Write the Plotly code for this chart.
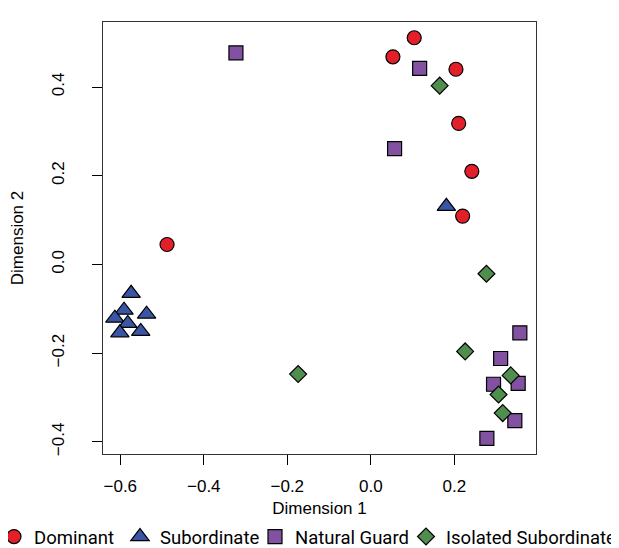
import plotly.graph_objects as go

# ---- data ----
dom_x = [0.104, 0.053, 0.204, 0.2105, 0.242, 0.220, -0.488]
dom_y = [0.511, 0.468, 0.440, 0.318, 0.210, 0.109, 0.045]

sub_x = [-0.574, -0.591, -0.613, -0.537, -0.582, -0.601, -0.551, 0.181]
sub_y = [-0.065, -0.103, -0.121, -0.112, -0.133, -0.154, -0.151, 0.131]

ng_x = [-0.323, 0.117, 0.057, 0.357, 0.311, 0.353, 0.294, 0.345, 0.278]
ng_y = [0.477, 0.442, 0.261, -0.154, -0.212, -0.268, -0.270, -0.352, -0.392]

iso_x = [0.165, 0.277, 0.226, 0.335, 0.306, 0.316, -0.174]
iso_y = [0.403, -0.021, -0.196, -0.250, -0.293, -0.335, -0.247]

tick_vals_x = [-0.6, -0.4, -0.2, 0.0, 0.2]
tick_vals_y = [-0.4, -0.2, 0.0, 0.2, 0.4]

W, H = 619, 548
ML, MR, MT, MB = 95, 91, 14, 102
PW = W - ML - MR

# name, x, y, symbol, size, colour, legend id, legend left edge (px)
series = [
    ("Dominant", dom_x, dom_y, "circle", 14, "#E3202A", "legend", -14),
    ("Subordinate", sub_x, sub_y, "triangle-up", 16, "#3A55A4", "legend2", 112),
    ("Natural Guard", ng_x, ng_y, "square", 14, "#8351A1", "legend3", 247),
    ("Isolated Subordinate", iso_x, iso_y, "diamond", 13, "#4F8E4F", "legend4", 398),
]

fig = go.Figure()
legend_layout = {}
leg_font = dict(family="Roboto, sans-serif", size=18.5, color="black")
for name, xs, ys, sym, sz, col, leg, left in series:
    fig.add_trace(go.Scatter(
        x=xs, y=ys, mode="markers", name=name, legend=leg,
        marker=dict(symbol=sym, size=sz, color=col,
                    line=dict(color="black", width=1.2)),
    ))
    legend_layout[leg] = dict(
        orientation="h", xref="paper", yref="container",
        x=(left - ML) / PW, xanchor="left", y=19 / H, yanchor="middle",
        font=leg_font, itemsizing="trace", itemwidth=30,
        bgcolor="rgba(0,0,0,0)", borderwidth=0,
    )

axis_font = dict(family="Liberation Sans, Arial, sans-serif", size=17, color="black")

fig.update_layout(
    width=W, height=H,
    margin=dict(l=ML, r=MR, t=MT, b=MB, autoexpand=False),
    paper_bgcolor="white", plot_bgcolor="white",
    showlegend=True,
    **legend_layout,
    xaxis=dict(
        range=[-0.6414, 0.3957], tickvals=tick_vals_x, tickformat=".1f",
        ticks="outside", ticklen=10, tickwidth=1, tickcolor="black",
        showline=True, linecolor="#333333", linewidth=1.2, mirror=True,
        showgrid=False, zeroline=False, tickfont=axis_font,
        ticklabelstandoff=6, automargin=True,
        title=dict(text="Dimension 1", font=axis_font, standoff=8),
    ),
    yaxis=dict(
        range=[-0.4272, 0.5465], tickvals=tick_vals_y, tickformat=".1f",
        ticks="outside", ticklen=10, tickwidth=1, tickcolor="black",
        showline=True, linecolor="#333333", linewidth=1.2, mirror=True,
        showgrid=False, zeroline=False, tickfont=axis_font, tickangle=-90,
        ticklabelstandoff=21, automargin=True,
        title=dict(text="Dimension 2", font=axis_font, standoff=27),
    ),
)

fig.write_html("out.html")
